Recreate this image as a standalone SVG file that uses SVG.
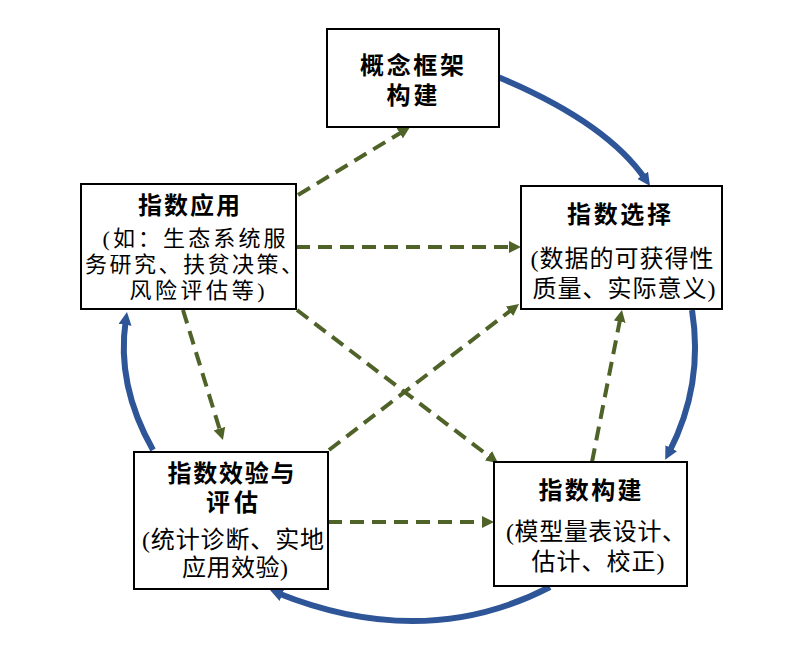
<svg xmlns="http://www.w3.org/2000/svg" width="800" height="649" viewBox="0 0 800 649">
<style>
.box{fill:#fff;stroke:#000;stroke-width:2}
.t{font-family:"Liberation Serif","Noto Sans CJK SC",serif;font-size:24px;fill:#000}
.s{font-size:22px}
.h{font-weight:bold}
.c{text-anchor:middle}
.solid{fill:none;stroke:#2e5597;stroke-width:6;stroke-linecap:butt}
.dash{fill:none;stroke:#4f6228;stroke-width:4;stroke-dasharray:14 8}
</style>
<defs>
<marker id="ab" viewBox="0 0 13 13" refX="5" refY="6.5" markerWidth="13" markerHeight="13" markerUnits="userSpaceOnUse" orient="auto">
<path d="M0,0 L13,6.5 L0,13 z" fill="#2e5597"/>
</marker>
<marker id="ag" viewBox="0 0 12 12" refX="4" refY="6" markerWidth="12" markerHeight="12" markerUnits="userSpaceOnUse" orient="auto">
<path d="M0,0 L12,6 L0,12 z" fill="#4f6228"/>
</marker>
</defs>
<rect width="800" height="649" fill="#fff"/>
<g id="connectors">
<path class="solid" d="M498,77 Q606,122 645.5,179.4" marker-end="url(#ab)"/>
<path class="solid" d="M692,310 Q704,385 668.9,452.6" marker-end="url(#ab)"/>
<path class="solid" d="M550,587 Q424,652 277.4,593" marker-end="url(#ab)"/>
<path class="solid" d="M153,450 Q116,385 125.8,319.9" marker-end="url(#ab)"/>
<path class="dash" d="M298,195 L403.2,131.2" marker-end="url(#ag)"/>
<path class="dash" d="M296,247 L513,247" marker-end="url(#ag)"/>
<path class="dash" d="M297,310 L491.6,458.2" marker-end="url(#ag)"/>
<path class="dash" d="M183,310 L220.6,432.4" marker-end="url(#ag)"/>
<path class="dash" d="M329,450 L512.7,308.9" marker-end="url(#ag)"/>
<path class="dash" d="M328,522 L486,522" marker-end="url(#ag)"/>
<path class="dash" d="M592,462 L620.4,317.8" marker-end="url(#ag)"/>
</g>
<g id="node-concept">
<rect class="box" x="327" y="29" width="172" height="98"/>
<text class="t h c" x="412" y="73.5" textLength="104">概念框架</text>
<text class="t h c" x="412" y="103.5" textLength="51">构建</text>
</g>
<g id="node-select">
<rect class="box" x="521" y="186" width="201" height="123"/>
<text class="t h c" x="619" y="222.5" textLength="104">指数选择</text>
<text class="t c" x="622" y="266.5" textLength="183">(数据的可获得性</text>
<text class="t c" x="624" y="296.5" textLength="183">质量、实际意义)</text>
</g>
<g id="node-apply">
<rect class="box" x="81" y="184" width="215" height="125"/>
<text class="t h c" x="189" y="214" textLength="102">指数应用</text>
<text class="t s c" x="194" y="246" textLength="183">(如：生态系统服</text>
<text class="t s" x="85" y="272" textLength="218">务研究、扶贫决策、</text>
<text class="t s c" x="197" y="298" textLength="135">风险评估等)</text>
</g>
<g id="node-validate">
<rect class="box" x="134" y="452" width="194" height="137"/>
<text class="t h c" x="231" y="481.5" textLength="127">指数效验与</text>
<text class="t h c" x="232" y="510.5" textLength="52">评估</text>
<text class="t c" x="233" y="547.5" textLength="182">(统计诊断、实地</text>
<text class="t c" x="235" y="575.5" textLength="106">应用效验)</text>
</g>
<g id="node-build">
<rect class="box" x="494" y="462" width="193" height="124"/>
<text class="t h c" x="590" y="498.5" textLength="103">指数构建</text>
<text class="t" x="506" y="539.5" textLength="180">(模型量表设计、</text>
<text class="t c" x="598" y="569.5" textLength="133">估计、校正)</text>
</g>
</svg>
